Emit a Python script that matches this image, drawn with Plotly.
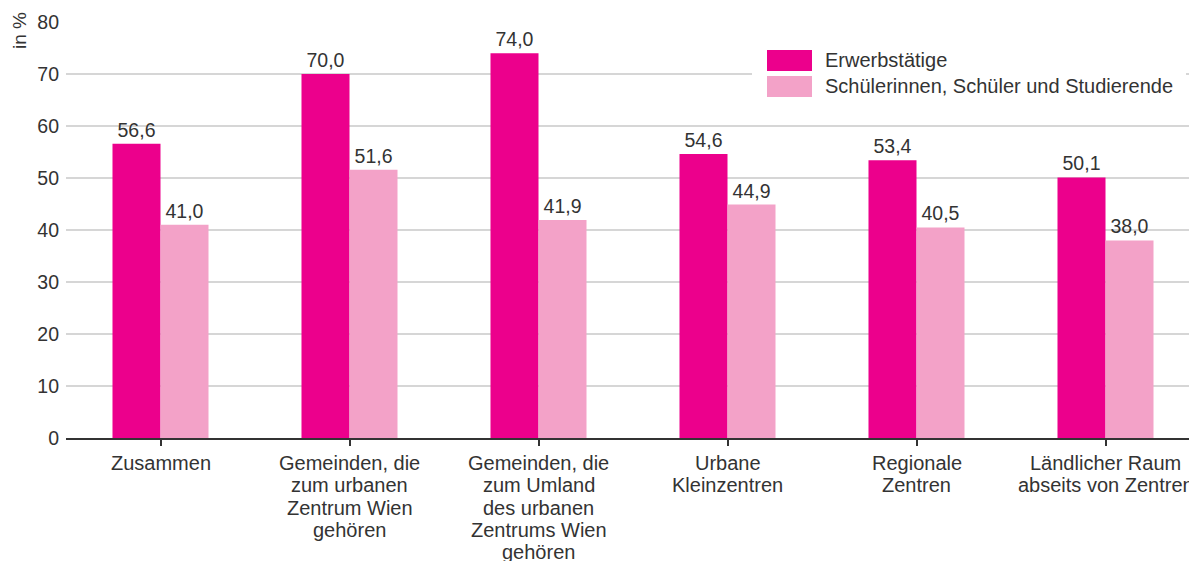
import plotly.graph_objects as go

# ---- data ----
categories = [
    "Zusammen",
    "Gemeinden, die<br>zum urbanen<br>Zentrum Wien<br>gehören",
    "Gemeinden, die<br>zum Umland<br>des urbanen<br>Zentrums Wien<br>gehören",
    "Urbane<br>Kleinzentren",
    "Regionale<br>Zentren",
    "Ländlicher Raum<br>abseits von Zentren",
]
series_names = ["Erwerbstätige", "Schülerinnen, Schüler und Studierende"]
erwerbstaetige = [56.6, 70.0, 74.0, 54.6, 53.4, 50.1]
schueler = [41.0, 51.6, 41.9, 44.9, 40.5, 38.0]
y_ticks = [0, 10, 20, 30, 40, 50, 60, 70, 80]
y_title = "in %"

# ---- style ----
W, H = 1189, 561
ML, MR, MT, MB = 66, 0, 22, 123
PW, PH = W - ML - MR, H - MT - MB
C_DARK = "#EC008C"
C_LIGHT = "#F3A2C8"
TXT = "#333333"
FONT = "Liberation Sans, Arial, sans-serif"

x_idx = list(range(len(categories)))

fig = go.Figure()
for name, vals, col in [(series_names[0], erwerbstaetige, C_DARK),
                        (series_names[1], schueler, C_LIGHT)]:
    fig.add_trace(go.Bar(
        x=x_idx, y=vals, name=name, marker=dict(color=col, line=dict(width=0)),
        texttemplate="%{y:.1f}", textposition="outside", cliponaxis=False,
        textfont=dict(size=19.5, color=TXT, family=FONT),
        showlegend=False, hoverinfo="skip",
    ))

def px_x(p):
    return (p - ML) / PW

def px_y(p):
    return (MT + PH - p) / PH

shapes = []
annotations = []

# legend (drawn as shapes + text)
shapes.append(dict(type="rect", xref="paper", yref="paper", layer="above",
                   x0=px_x(752), x1=px_x(1186), y0=px_y(105), y1=px_y(42),
                   fillcolor="white", line=dict(width=0)))
for i, (name, col) in enumerate(zip(series_names, [C_DARK, C_LIGHT])):
    top = 50 + 26 * i
    shapes.append(dict(type="rect", xref="paper", yref="paper", layer="above",
                       x0=px_x(767), x1=px_x(812), y0=px_y(top + 21), y1=px_y(top),
                       fillcolor=col, line=dict(width=0)))
    annotations.append(dict(text=name, xref="paper", yref="paper",
                            x=px_x(823), y=px_y(top + 10.5), xanchor="left", yanchor="middle",
                            showarrow=False, font=dict(size=20, color=TXT, family=FONT)))

# y axis title
annotations.append(dict(text=y_title, xref="paper", yref="paper", textangle=-90,
                        x=px_x(19), y=px_y(31), xanchor="center", yanchor="middle",
                        showarrow=False, font=dict(size=19, color=TXT, family=FONT)))

# category labels, one line at a time (tighter line spacing than plotly tick labels)
for i, cat in enumerate(categories):
    for j, line in enumerate(cat.split("<br>")):
        annotations.append(dict(text=line, x=i, xref="x", y=0, yref="paper",
                                xanchor="center", yanchor="middle",
                                yshift=-(25 + 22.25 * j), showarrow=False,
                                font=dict(size=20, color=TXT, family=FONT)))

fig.update_layout(
    width=W, height=H,
    margin=dict(l=ML, r=MR, t=MT, b=MB, pad=0),
    paper_bgcolor="white", plot_bgcolor="white",
    barmode="group", bargap=0.492, bargroupgap=0,
    separators=",.",
    font=dict(family=FONT, color=TXT, size=19.5),
    shapes=shapes, annotations=annotations,
    xaxis=dict(range=[-0.5, -0.5 + PW / 189.0], tickmode="array", tickvals=x_idx,
               showticklabels=False, ticks="outside", ticklen=6, tickwidth=2,
               tickcolor=TXT, showline=True, linecolor=TXT, linewidth=2,
               showgrid=False, zeroline=False, fixedrange=True),
    yaxis=dict(range=[0, 80], tickmode="array", tickvals=y_ticks,
               showgrid=True, gridcolor="#d6d6d6", gridwidth=1.5,
               zeroline=False, showline=False, ticks="",
               ticklabelstandoff=6,
               tickfont=dict(size=19.5, color=TXT, family=FONT), fixedrange=True),
)

fig.write_html(
    "out.html",
    config={"displayModeBar": False},
    post_script="document.body.style.margin='0';document.body.style.overflow='hidden';",
)
